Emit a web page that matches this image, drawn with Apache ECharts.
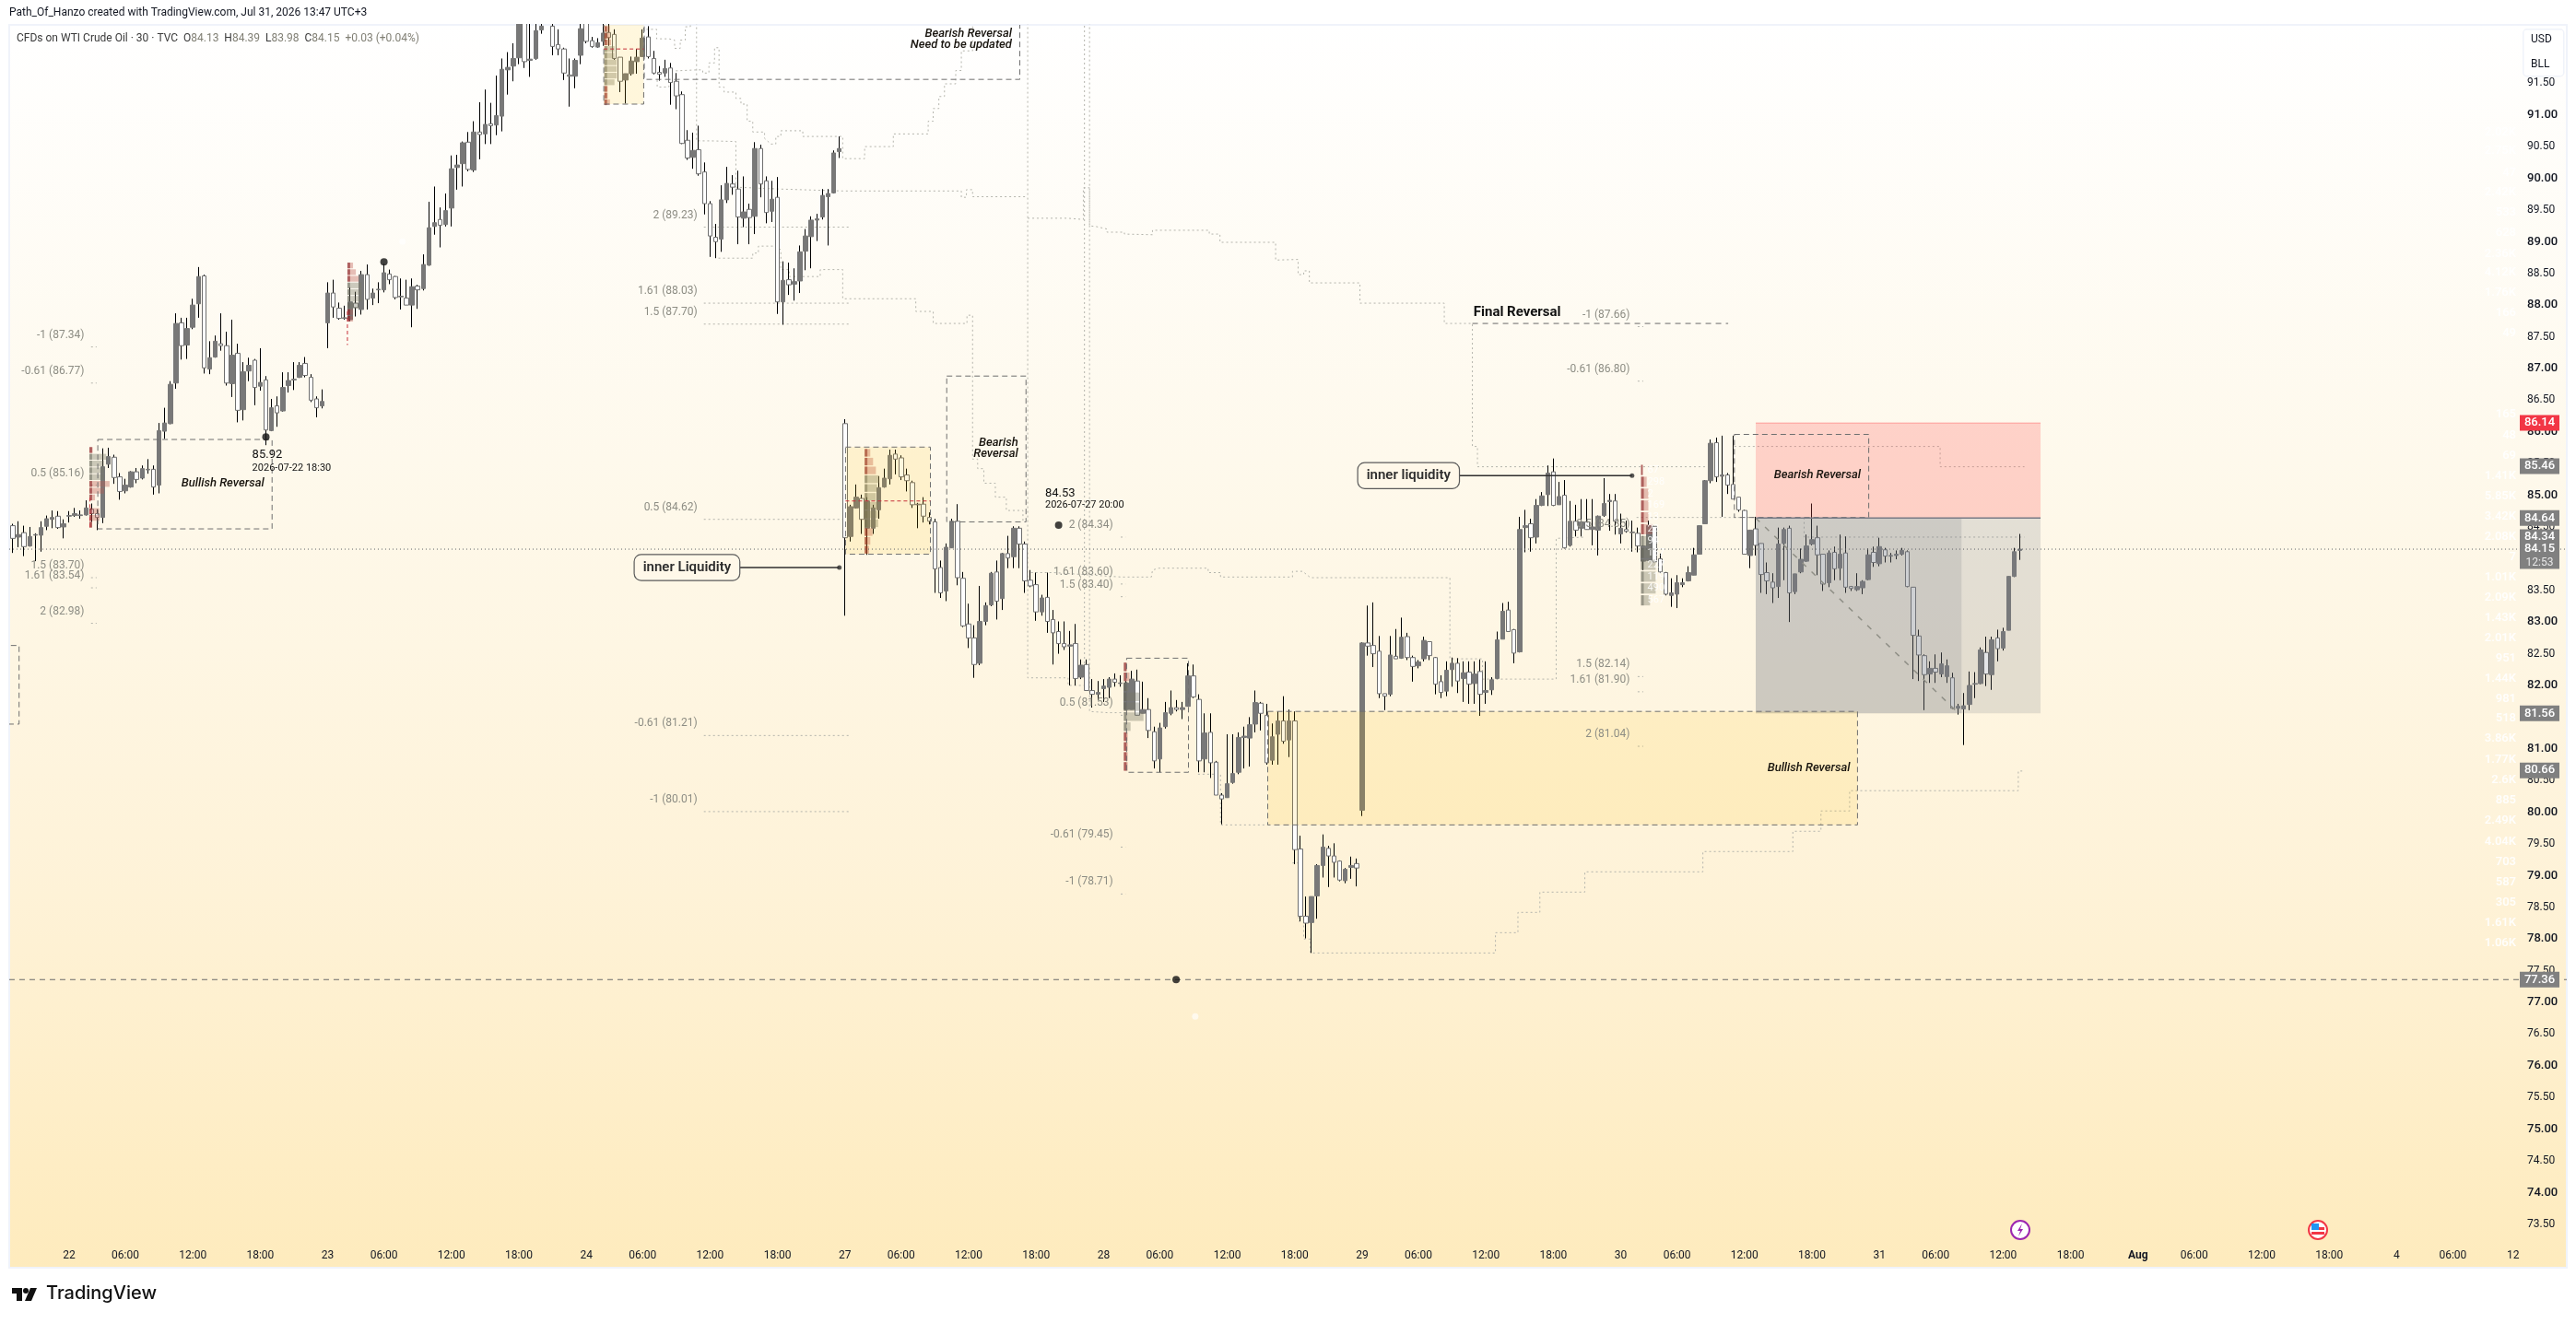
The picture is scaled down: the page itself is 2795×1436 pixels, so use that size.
<!DOCTYPE html>
<html>
<head>
<meta charset="utf-8">
<title>WTI 30m</title>
<style>
  html, body { margin: 0; padding: 0; background: #fff; }
  #main { width: 2795px; height: 1436px; }
</style>
<script src="https://cdn.jsdelivr.net/npm/echarts@6/dist/echarts.min.js"></script>
</head>
<body>
<div id="main"></div>
<script>
// 30m bars, first one sits at slot -10 (slot 0 = Jul 22 01:00), rows are open, close, low, high
var firstSlot = -10;
var bars = [
  [84.52,84.32,84.09,84.55],[84.34,84.38,84.18,84.59],[84.41,84.19,84.04,84.52],[84.20,84.35,84.19,84.50],[84.37,84.38,83.96,84.40],
  [84.37,84.49,84.11,84.59],[84.51,84.63,84.45,84.68],[84.62,84.65,84.48,84.76],[84.67,84.49,84.47,84.75],[84.50,84.55,84.32,84.62],
  // Jul 22
  [84.67,84.68,84.57,84.75],[84.68,84.71,84.66,84.80],[84.68,84.69,84.63,84.76],[84.69,84.80,84.68,84.92],[84.78,84.71,84.58,84.87],
  [84.71,84.65,84.45,84.78],[84.65,85.45,84.56,85.74],[85.49,85.61,85.43,85.75],[85.60,85.28,85.18,85.64],[85.29,85.06,84.93,85.35],
  [85.07,85.16,85.03,85.26],[85.13,85.37,85.12,85.38],[85.37,85.25,85.19,85.43],[85.27,85.42,85.25,85.47],[85.40,85.41,85.34,85.57],
  [85.41,85.13,85.01,85.47],[85.16,86.02,85.03,86.14],[86.01,86.14,85.89,86.38],[86.13,86.75,86.12,86.80],[86.77,87.71,86.68,87.87],
  [87.72,87.36,87.14,87.80],[87.37,87.63,87.15,87.80],[87.65,88.00,87.62,88.10],[88.02,88.45,87.80,88.60],[88.46,87.01,86.92,88.48],
  [86.99,87.17,86.91,87.43],[87.18,87.43,87.17,87.52],[87.39,87.36,87.28,87.87],[87.36,86.77,86.73,87.58],[86.76,87.21,86.55,87.77],
  [87.24,86.34,86.15,87.39],[86.35,86.95,86.18,87.10],[86.96,87.05,86.80,87.17],[87.13,86.70,86.42,87.15],[86.72,86.78,86.65,87.32],
  [86.82,86.03,85.79,86.88],[86.02,86.38,86.01,86.52],[86.41,86.30,86.08,86.56],[86.33,86.70,86.32,86.94],[86.73,86.81,86.62,86.94],
  [86.82,86.83,86.66,87.10],[86.86,87.05,86.85,87.10],[87.08,86.89,86.86,87.18],[86.86,86.50,86.47,86.91],[86.52,86.38,86.23,86.56],
  [86.41,86.48,86.37,86.67],
  // Jul 23
  [87.72,88.19,87.32,88.36],[88.19,87.97,87.80,88.40],[87.95,87.79,87.77,88.04],[87.79,87.80,87.77,87.99],[87.77,88.05,87.75,88.28],
  [88.03,87.96,87.82,88.21],[87.93,88.48,87.85,88.54],[88.48,88.09,87.93,88.64],[88.11,88.19,88.00,88.26],[88.24,88.25,88.03,88.36],
  [88.24,88.51,88.20,88.65],[88.49,88.40,88.33,88.56],[88.45,88.12,88.09,88.46],[88.13,88.14,87.93,88.42],[88.11,88.00,88.00,88.40],
  [88.00,88.29,87.65,88.42],[88.30,88.24,87.94,88.32],[88.26,88.64,88.23,88.80],[88.63,89.22,88.62,89.63],[89.24,89.30,89.11,89.87],
  [89.35,89.26,88.91,89.54],[89.27,89.49,89.24,89.76],[89.53,90.15,89.24,90.36],[90.17,90.21,89.82,90.37],[90.23,90.56,89.87,90.58],
  [90.57,90.14,90.11,90.73],[90.13,90.73,90.10,90.90],[90.73,90.69,90.30,91.20],[90.70,90.85,90.54,91.40],[90.86,90.83,90.54,91.19],
  [90.84,90.99,90.68,91.62],[90.98,91.72,90.74,91.89],[91.71,91.75,91.32,91.99],[91.77,91.89,91.53,92.13],[91.90,92.60,91.80,92.70],
  [92.55,91.84,91.74,92.70],[91.86,91.88,91.60,92.50],[91.89,92.33,91.87,92.60],[92.34,92.40,92.28,92.60],[92.70,92.90,92.50,93.00],
  [92.40,92.08,91.94,92.60],[92.11,92.04,91.94,92.35],[92.04,91.66,91.55,92.06],[91.63,91.61,91.13,91.89],[91.61,91.86,91.42,91.89],
  [91.94,92.36,91.80,92.62],
  // Jul 24
  [92.50,92.16,92.13,92.60],[92.17,92.08,92.06,92.23],[92.07,92.14,92.06,92.21],[92.16,92.29,92.09,92.60],[92.30,92.22,92.09,92.60],
  [92.27,91.89,91.87,92.35],[91.91,91.53,91.36,91.91],[91.55,91.65,91.18,91.65],[91.65,91.85,91.62,91.92],[91.84,91.91,91.65,92.04],
  [91.92,92.21,91.92,92.35],[92.23,91.92,91.89,92.40],[91.89,91.66,91.64,92.01],[91.67,91.64,91.54,91.77],[91.66,91.73,91.60,91.87],
  [91.74,91.51,91.16,91.82],[91.53,91.30,91.09,91.66],[91.32,90.55,90.54,91.37],[90.60,90.32,90.29,90.76],[90.33,90.44,90.15,90.72],
  [90.45,90.07,90.04,90.83],[90.10,89.60,89.43,90.25],[89.60,89.09,88.76,89.64],[89.07,89.00,88.74,89.28],[89.04,89.66,88.84,89.89],
  [89.66,89.92,89.61,90.18],[89.91,89.86,89.74,90.05],[89.83,89.39,88.96,90.12],[89.37,89.47,89.23,90.03],[89.51,89.38,88.96,89.60],
  [89.40,90.47,89.12,90.57],[90.47,89.91,89.70,90.53],[89.96,89.46,89.29,90.03],[89.48,89.67,89.31,89.96],[89.70,88.05,87.86,90.02],
  [88.05,88.39,87.69,88.69],[88.40,88.32,88.16,88.67],[88.33,88.37,88.07,88.58],[88.38,88.84,88.19,88.94],[88.85,89.09,88.55,89.20],
  [89.08,89.34,88.58,89.40],[89.34,89.36,89.01,89.44],[89.39,89.73,89.35,89.83],[89.71,89.76,88.94,89.83],[89.77,90.40,89.76,90.44],
  [90.42,90.47,90.32,90.66],
  // Jul 27
  [86.13,84.33,83.10,86.20],[84.35,84.82,84.27,84.85],[84.80,84.97,84.79,85.17],[84.95,84.62,84.39,85.01],[84.48,84.91,84.06,84.97],
  [84.48,84.80,84.39,84.85],[84.77,85.12,84.63,85.30],[85.13,85.27,85.12,85.42],[85.26,85.63,85.17,85.72],[85.65,85.57,85.33,85.72],
  [85.59,85.29,85.24,85.63],[85.32,85.23,85.06,85.42],[85.20,84.85,84.80,85.23],[84.86,84.85,84.48,84.88],[84.86,84.67,84.57,84.97],
  [84.65,84.59,84.54,84.73],[84.58,83.84,83.46,84.63],[83.86,83.46,83.38,83.97],[83.49,84.18,83.33,84.24],[84.17,84.59,84.17,84.63],
  [84.59,83.70,83.58,84.86],[83.69,82.94,82.92,83.79],[82.97,82.75,82.59,83.29],[82.75,82.33,82.12,82.95],[82.35,83.01,82.32,83.57],
  [83.01,83.26,82.95,83.31],[83.27,83.77,83.25,83.79],[83.79,83.33,83.04,83.97],[83.37,84.08,83.19,84.09],[84.08,84.01,83.85,84.36],
  [84.03,84.48,83.85,84.51],[84.48,84.23,83.85,84.51],[84.23,83.65,83.46,84.27],[83.66,83.57,83.55,83.82],[83.59,83.16,83.02,83.78],
  [83.16,83.38,83.10,83.43],[83.39,83.01,82.83,83.78],[83.04,82.83,82.33,83.19],[82.85,82.66,82.50,83.01],[82.66,82.61,82.56,83.01],
  [82.62,82.64,82.00,82.86],[82.66,82.11,82.00,82.97],[82.13,82.32,82.10,82.41],[82.33,81.92,81.92,82.41],[81.92,81.86,81.65,82.10],
  [81.86,81.89,81.77,82.07],
  // Jul 28
  [81.95,81.99,81.74,82.10],[81.97,82.10,81.80,82.13],[82.10,82.05,81.98,82.19],[82.03,82.04,81.98,82.16],[81.62,82.04,81.62,82.07],
  [81.62,82.10,81.62,82.23],[82.07,81.53,81.53,82.25],[81.56,81.62,81.56,82.06],[81.62,81.29,81.17,81.80],[81.27,80.81,80.69,81.35],
  [80.84,81.33,80.63,81.41],[81.35,81.57,81.32,81.74],[81.56,81.65,81.53,81.92],[81.65,81.62,81.59,81.77],[81.62,81.65,81.47,81.74],
  [81.67,82.15,81.67,82.35],[82.15,81.82,81.80,82.33],[81.78,80.81,80.63,81.86],[80.84,81.25,80.63,81.56],[81.26,80.78,80.54,81.56],
  [80.79,80.27,80.27,80.81],[80.27,80.21,79.81,80.30],[80.23,80.45,80.23,81.23],[80.47,80.61,80.45,81.23],[80.63,81.18,80.60,81.26],
  [81.18,81.20,80.69,81.35],[81.17,81.38,80.72,81.50],[81.39,81.73,81.26,81.92],[81.72,81.56,81.29,81.74],[81.53,80.78,80.75,81.71],
  [80.82,81.19,80.75,81.40],[81.23,81.44,80.75,81.59],[81.44,81.12,81.08,81.83],[81.14,81.44,80.87,81.62],[81.44,79.41,79.18,81.59],
  [79.42,78.36,78.28,79.63],[78.36,78.25,78.01,78.67],[78.26,78.67,77.78,78.67],[78.68,79.16,78.32,79.18],[79.16,79.45,78.97,79.65],
  [79.43,79.31,78.82,79.47],[79.31,79.21,78.97,79.51],[79.23,78.93,78.91,79.24],[78.92,79.10,78.88,79.12],[79.13,79.16,78.95,79.30],
  [79.19,79.12,78.83,79.27],
  // Jul 29
  [80.03,82.67,79.94,82.68],[82.67,82.62,82.47,83.26],[82.63,82.50,82.29,83.31],[82.54,81.87,81.80,82.78],[81.87,81.83,81.61,81.87],
  [81.86,82.48,81.83,82.78],[82.46,82.42,82.42,82.89],[82.43,82.76,82.42,83.07],[82.77,82.44,82.40,82.83],[82.44,82.30,82.06,82.47],
  [82.31,82.37,82.27,82.40],[82.42,82.71,82.38,82.77],[82.69,82.47,82.40,82.69],[82.44,82.02,81.86,82.45],[82.06,81.89,81.80,82.16],
  [81.91,82.24,81.83,82.38],[82.25,82.35,81.98,82.44],[82.35,82.07,81.88,82.43],[82.11,82.20,81.74,82.38],[82.21,82.02,81.71,82.38],
  [82.03,82.18,81.71,82.38],[82.22,81.86,81.52,82.41],[81.89,81.92,81.71,82.38],[81.93,82.09,81.85,82.13],[82.11,82.72,82.10,82.85],
  [82.73,83.17,82.74,83.30],[83.19,82.85,82.85,83.32],[82.88,82.51,82.35,82.89],[82.53,84.46,82.52,84.66],[84.49,84.52,84.10,84.77],
  [84.55,84.33,84.11,84.63],[84.34,84.84,84.24,84.94],[84.84,84.99,84.83,85.05],[85.01,85.35,84.83,85.47],[85.37,84.84,84.83,85.58],
  [84.85,84.98,84.85,85.21],[85.00,84.17,84.16,85.24],[84.21,84.59,84.19,84.91],[84.59,84.45,84.35,84.85],[84.48,84.58,84.35,84.94],
  [84.58,84.46,84.46,84.94],[84.46,84.50,84.21,84.94],[84.45,84.67,84.05,84.68],[84.68,84.87,84.66,85.27],[84.90,84.92,84.44,85.02],
  [84.91,84.59,84.38,85.02],
  // Jul 30
  [84.39,84.48,84.24,84.71],[84.46,84.43,84.41,84.60],[84.41,84.42,84.11,84.60],[84.40,84.20,84.10,84.49],[83.96,84.20,83.82,84.21],
  [83.97,84.52,83.96,84.60],[84.51,83.95,83.94,84.52],[84.00,83.79,83.77,84.08],[83.78,83.44,83.42,83.79],[83.42,83.46,83.24,83.69],
  [83.44,83.62,83.22,83.74],[83.59,83.62,83.55,83.69],[83.65,83.78,83.64,83.88],[83.74,84.06,83.74,84.17],[84.07,84.52,84.07,84.52],
  [84.55,85.23,84.55,85.24],[85.23,85.82,85.19,85.88],[85.83,85.29,85.21,85.91],[85.30,85.32,84.66,85.94],[85.32,85.16,85.02,85.35],
  [85.17,84.94,84.94,85.94],[84.97,84.77,84.74,84.97],[84.76,84.07,84.07,84.77],[84.05,84.45,83.85,84.45],[84.47,84.21,84.05,84.66],
  [84.24,83.75,83.46,84.24],[83.78,83.65,83.44,83.94],[83.63,83.54,83.30,83.77],[83.56,84.23,83.38,84.49],[84.24,84.46,83.66,84.49],
  [84.48,83.46,83.00,84.52],[83.48,83.76,83.44,83.76],[83.79,83.99,83.77,84.16],[83.96,84.20,83.95,84.38],[84.23,84.30,84.21,84.87],
  [84.33,84.06,83.74,84.52],[84.07,83.60,83.49,84.07],[83.62,84.09,83.55,84.13],[84.10,83.84,83.66,84.19],[83.85,84.07,83.66,84.38],
  [84.09,83.55,83.46,84.35],[83.56,83.53,83.49,83.57],[83.51,83.56,83.49,83.77],[83.54,83.64,83.44,83.66],[83.67,84.06,83.66,84.16],
  [84.10,83.94,83.87,84.19],
  // Jul 31
  [83.92,84.19,83.88,84.33],[84.14,84.04,83.94,84.17],[84.05,84.04,83.94,84.09],[84.05,84.07,83.99,84.13],[84.07,84.13,84.05,84.17],
  [84.11,83.56,83.55,84.13],[83.55,82.79,82.10,83.55],[82.78,82.48,82.07,82.88],[82.47,82.17,81.61,82.49],[82.18,82.27,82.04,82.38],
  [82.27,82.21,82.04,82.49],[82.18,82.34,82.13,82.52],[82.14,82.31,82.04,82.41],[82.12,81.64,81.63,82.20],[81.64,81.67,81.54,81.71],
  [81.63,81.68,81.06,81.88],[81.70,82.00,81.61,82.22],[82.02,82.03,81.80,82.21],[82.03,82.56,82.02,82.60],[82.52,82.18,81.99,82.77],
  [82.17,82.72,81.93,82.77],[82.75,82.58,82.38,82.88],[82.59,82.85,82.55,82.91],[82.87,83.72,82.87,83.72],[83.72,84.11,83.71,84.17],
  [84.13,84.15,83.98,84.39]
];

var priceTicks = [91.5,91,90.5,90,89.5,89,88.5,88,87.5,87,86.5,86,85.5,85,84.5,84,83.5,83,82.5,82,81.5,81,80.5,80,79.5,79,78.5,78,77.5,77,76.5,76,75.5,75,74.5,74,73.5];
var timeSlots = [0,10,22,34,46,56,68,80,92,102,114,126,138,148,160,172,184,194,206,218,230,240,252,264,276,286,298,310,322,332,344,356,368,378,390,402,414,424,434.7];
var timeTexts = ['22','06:00','12:00','18:00','23','06:00','12:00','18:00','24','06:00','12:00','18:00','27','06:00','12:00','18:00','28','06:00','12:00','18:00','29','06:00','12:00','18:00','30','06:00','12:00','18:00','31','06:00','12:00','18:00','Aug','06:00','12:00','18:00','4','06:00','12'];

// slot start, slot end, price top, price bottom, look
var zones = [
  [300,350.66,86.14,84.64,'red'],
  [300,350.66,84.64,81.56,'gray'],
  [300,336.6,84.64,81.56,'gray'],
  [213.2,318.1,81.59,79.80,'yellow'],
  [138.1,153.2,85.76,84.07,'yellow'],
  [95.1,102.2,93.2,91.17,'yellow'],
  [5.1,36.1,85.88,84.47,'box'],
  [-12,-8.9,82.63,81.39,'box'],
  [102.3,169.1,93.5,91.56,'box'],
  [156.1,170.2,86.88,84.58,'box'],
  [188.1,199.1,82.43,80.63,'box'],
  [296.2,320.1,85.96,84.65,'box']
];

// slot, price, slot, price, look
var guides = [
  [-10.66,84.15,444.26,84.15,'last'],
  [-10.66,77.36,444.26,77.36,'level'],
  [249.6,87.71,295.1,87.71,'level'],
  [300,84.64,350.66,84.64,'edge'],
  [300,86.14,350.66,86.14,'redEdge'],
  [300,84.64,336.1,81.56,'diag'],
  [138.1,84.91,153.2,84.91,'redDash'],
  [95.1,92.04,102.2,92.04,'redDash'],
  [49.5,87.9,49.5,87.37,'redDash'],
  [3.7,84.96,3.7,84.46,'redDash'],
  [119.2,83.86,137,83.86,'pointer'],
  [247.2,85.31,278,85.31,'pointer']
];

var stepA = [[102.7,92.35],[104.5,92.35],[104.5,92.2],[106.7,92.2],[107.7,92.18],[107.7,92.05],[108.7,92.05],[108.7,92.18],[109.6,92.18],[109.6,92.39],[110.5,92.39],[110.5,92.6]];
var stepB = [[104.6,91.55],[104.6,91.44],[106.7,91.44],[106.7,91.69],[111.6,91.71],[112.7,91.71],[112.7,91.66],[113.8,91.66],[113.8,91.82],[114.8,91.82],[114.8,92.06],[115.6,92.06],[115.6,91.44],[116.5,91.44],[116.5,91.36],[118.6,91.36],[118.6,91.26],[119.5,91.26],[119.5,91.17],[120.6,91.17],[120.6,90.9],[121.6,90.9],[121.6,90.73],[123.7,90.73],[123.7,90.63],[124.8,90.54],[125.7,90.54],[125.7,90.66],[126.6,90.66],[126.6,90.75],[130.5,90.75],[130.5,90.66],[137.6,90.66],[137.6,90.31],[141.5,90.31],[141.5,90.5],[146.6,90.5],[146.6,90.7],[152.8,90.7],[152.8,90.9],[153.7,90.9],[153.7,91.1],[154.7,91.1],[154.7,91.29],[155.7,91.29],[155.7,91.49],[157.7,91.49],[157.7,91.7],[158.7,91.7],[158.7,92.01],[160.7,92.01],[160.7,92.6]];
var stepC = [[111.6,92.6],[111.6,90.59],[114.2,90.59],[118.6,90.58],[118.6,89.86],[126.6,89.83],[137.6,89.8],[158.7,89.8],[158.7,89.7],[159.6,89.7],[159.6,89.82],[160.7,89.82],[160.7,89.71],[170.5,89.71]];
var stepD = [[170.5,92.6],[170.5,82.12],[177.7,82.12],[177.7,82],[180.6,82],[180.6,92.6]];
var stepE = [[181.5,92.6],[181.5,81.59],[184.7,81.57],[188.1,81.57]];
var stepF = [[170.5,89.37],[177.6,89.37],[177.6,89.35],[180.4,89.35],[180.4,89.85],[181.5,89.85],[181.5,89.25],[182.6,89.24],[184.6,89.2],[184.6,89.15],[187.7,89.15],[187.7,89.12],[192.7,89.11],[192.7,89.18],[202.8,89.18],[202.8,89.12],[204.7,89.12],[204.7,88.99],[214.6,88.99],[214.6,88.71],[218.6,88.72],[218.6,88.48],[219.6,88.48],[219.6,88.54],[220.6,88.54],[220.6,88.35],[229.6,88.35],[229.6,88.03],[244.6,88.03],[244.6,87.71],[249.6,87.71],[249.6,85.77],[250.5,85.77],[250.5,85.45],[291.5,85.45]];
var stepG = [[296.2,85.77],[332.8,85.77],[332.8,85.45],[347.8,85.45]];
var stepH = [[115.5,88.74],[121.6,88.74],[121.6,88.82],[122.6,88.82],[122.6,88.93],[125.9,88.93],[126.6,88.87],[126.6,88.56],[128.1,88.56],[128.1,88.45],[133.6,88.45],[133.6,88.56],[137.6,88.56],[137.6,88.1],[150.6,88.1],[150.6,87.9],[153.7,87.9],[153.7,87.71],[159.7,87.71],[159.7,87.84],[160.7,87.84],[160.7,85.57],[161.6,85.57],[161.6,85.42],[162.7,85.42],[162.7,85.19],[164.75,85.19],[164.75,84.97],[166.7,84.97],[166.7,84.76],[169.66,84.76],[169.66,84.58]];
var stepI = [[171.1,83.78],[175.1,83.78],[187.2,83.71],[192.5,83.71],[192.7,83.82],[193.8,83.85],[202.6,83.85],[202.6,83.78],[204.8,83.78],[204.8,83.71],[217.6,83.71],[217.6,83.8],[219.4,83.8],[220.8,83.7],[245.6,83.7],[245.6,82.42],[251.4,82.42],[251.4,82.1],[264.5,82.1],[264.5,84.32],[269.6,84.34]];
var stepJ = [[200.8,80.6],[204.8,80.6],[204.8,79.8],[213.2,79.8]];
var stepK = [[217.6,79.2],[218.7,79.2],[218.7,78.28],[219.6,78.28],[219.6,78],[220.8,78],[220.8,77.78],[253.7,77.78],[253.7,78.1],[257.7,78.1],[257.7,78.42],[261.6,78.42],[261.6,78.74],[269.6,78.74],[269.6,79.06],[290.6,79.06],[290.6,79.38],[306.6,79.38],[306.6,79.7],[311.6,79.7],[311.6,80.02],[316.7,80.02],[316.7,80.34],[346.7,80.34],[346.7,80.65],[347.8,80.65]];
var stepL = [[308.6,84.65],[308.6,84.34],[347.8,84.34]];
var stepM = [[278.8,84.65],[300,84.65]];
var stepLines = [stepA,stepB,stepC,stepD,stepE,stepF,stepG,stepH,stepI,stepJ,stepK,stepL,stepM];

// fib captions: text, price, slot where the caption ends, dotted line from, dotted line to
var fibs = [
  ['-1 (87.34)',87.34,2.7,3.9,4.9],['-0.61 (86.77)',86.77,2.7,3.9,4.9],['0.5 (85.16)',85.16,2.7,3.9,4.9],
  ['1.5 (83.70)',83.70,2.7,3.9,4.9],['1.61 (83.54)',83.54,2.7,3.9,4.9],['2 (82.98)',82.98,2.7,3.9,4.9],
  ['2 (89.23)',89.23,111.75,112.9,138.8],['1.61 (88.03)',88.03,111.75,112.9,138.8],['1.5 (87.70)',87.70,111.75,112.9,138.8],
  ['0.5 (84.62)',84.62,111.75,112.9,138.8],['-0.61 (81.21)',81.21,111.75,112.9,138.8],['-1 (80.01)',80.01,111.75,112.9,138.8],
  ['2 (84.34)',84.34,185.7,187.05,187.9],['1.61 (83.60)',83.60,185.7,187.05,187.9],['1.5 (83.40)',83.40,185.7,187.05,187.9],
  ['0.5 (81.53)',81.53,185.7,187.05,187.9],['-0.61 (79.45)',79.45,185.7,187.05,187.9],['-1 (78.71)',78.71,185.7,187.05,187.9],
  ['-1 (87.66)',87.66,277.6,279,280],['-0.61 (86.80)',86.80,277.6,279,280],['0.5 (84.35)',84.35,277.6,279,280],
  ['1.5 (82.14)',82.14,277.6,279,280],['1.61 (81.90)',81.90,277.6,279,280],['2 (81.04)',81.04,277.6,279,280]
];

// slot, price, text, look
var notes = [
  [34.7,85.18,'Bullish Reversal','italicEnd'],
  [167.7,92.28,'Bearish Reversal','italicEnd'],
  [167.7,92.10,'Need to be updated','italicEnd'],
  [168.8,85.83,'Bearish','italicEnd'],
  [168.8,85.65,'Reversal','italicEnd'],
  [318.7,85.32,'Bearish Reversal','italicEnd'],
  [316.8,80.69,'Bullish Reversal','italicEnd'],
  [249.8,87.88,'Final Reversal','boldStart'],
  [32.56,85.63,'85.92','value'],
  [32.56,85.43,'2026-07-22 18:30','stamp'],
  [173.6,85.03,'84.53','value'],
  [173.6,84.85,'2026-07-27 20:00','stamp'],
  [119.2,83.86,'inner Liquidity','callout'],
  [247.2,85.31,'inner liquidity','callout']
];

var dots = [[35,85.92],[56,88.68],[176,84.53],[196.9,77.36]];
var smallDots = [[137,83.86],[278,85.31]];
var glints = [[59.3,89.0],[200.3,76.78]];

// price, text, colour, second line
var priceTags = [
  [86.14,'86.14','#f23645'],[85.46,'85.46','#808080'],[84.64,'84.64','#808080'],[84.34,'84.34','#808080'],
  [84.15,'84.15','#808080','12:53'],[81.56,'81.56','#808080'],[80.66,'80.66','#808080'],[77.36,'77.36','#808080']
];

var volumePrices = [90.73,90.43,90.09,89.78,89.46,89.14,88.81,88.51,88.19,87.87,87.55,86.27,85.94,85.62,85.30,84.99,84.66,84.34,84.03,83.70,83.39,83.07,82.75,82.43,82.11,81.79,81.48,81.16,80.83,80.51,80.18,79.86,79.54,79.21,78.90,78.57,78.26,77.94];
var volumeTexts = ['2.02K','2.75K','47','2.42K','533','628','2.36K','4.12K','1.76K','166','49','165','48','69','1.41K','5.85K','3.42K','2.08K','7','1.01K','2.09K','1.43K','2.01K','951','1.44K','981','518','3.86K','1.77K','2.6K','885','2.49K','4.04K','703','587','305','1.61K','1.06K'];

// footprint clusters: first slot, top price, row height in price, row widths in slots, tones
var footprintA = [3.6,85.76,0.107,[0.6,3,2.6,2.6,2.6,3.6,2.6,1,0,1.8,1.8,0.5],'rggggrrrrrrr'];
var footprintB = [49.5,88.67,0.105,[1,1.5,2,2.5,2.5,2.5,2,1,1],'rrrggggrr'];
var footprintC = [95.2,92.40,0.105,[1,1,1.2,1.8,1.8,2.2,2.2,2.2,1.8,0.6,0.6,1],'rrrggggggrrr'];
var footprintD = [141.5,85.73,0.139,[1,1.5,2,2.6,2.2,2,2.4,2.4,2.4,1.4,1,0.8],'rrrggggggrrr'];
var footprintE = [187.6,82.36,0.157,[0.5,1,0.8,2.8,2.8,3.5,1.2,0.7,0.7,0.7,0.7],'rrgggggrrrr'];
var footprintF = [279.6,85.48,0.187,[0.3,1,1.3,1.3,1.3,2,1.6,2,2.6,2.6,2.6,1.6],'rrrrrrgggggg'];
var footprintFTexts = ['67','298','2','169','13','23','94','157','227','119','490','567'];
var footprints = [footprintA,footprintB,footprintC,footprintD,footprintE,footprintF];

var uiFont = 'Roboto, "Noto Sans", sans-serif';

var zoneStyle = {
  red: { fill: 'rgba(255,82,82,0.24)' },
  gray: { fill: 'rgba(120,123,134,0.2)' },
  yellow: { fill: 'rgba(255,196,0,0.13)', stroke: '#6f6f6f', lineWidth: 1, lineDash: [6, 4] },
  box: { fill: 'transparent', stroke: '#6f6f6f', lineWidth: 1, lineDash: [6, 4] }
};
var guideStyle = {
  last: { color: '#5d6066', width: 1, type: [1, 3] },
  level: { color: '#6a6a6a', width: 1, type: [6, 5] },
  edge: { color: '#787b86', width: 1.5, type: 'solid' },
  redEdge: { color: 'rgba(255,82,82,0.45)', width: 1, type: 'solid' },
  diag: { color: '#8f8f86', width: 1.5, type: [6, 8] },
  redDash: { color: '#c7303a', width: 1, type: [4, 3] },
  pointer: { color: '#2e2e2e', width: 1.5, type: 'solid' }
};
var noteStyle = {
  italicEnd: { font: 'italic 500 13px ' + uiFont, fill: '#17130d', align: 'right' },
  boldStart: { font: '700 15px ' + uiFont, fill: '#111', align: 'left' },
  value: { font: '13px ' + uiFont, fill: '#111', align: 'left' },
  stamp: { font: '11px ' + uiFont, fill: '#111', align: 'left' },
  callout: { font: '600 15px ' + uiFont, fill: '#2e2e2e', align: 'right' }
};

function slotOf(k) { return firstSlot + k; }

function overlay(name, rows, z, draw, clip) {
  return {
    type: 'custom', name: name, z: z, clip: clip !== false, silent: true,
    coordinateSystem: 'cartesian2d',
    encode: { x: 0, y: 1 },
    data: rows.map(function (r) { return [r[0], r[1]]; }),
    renderItem: function (params, api) { return draw(rows[params.dataIndex], api, params); }
  };
}

// build option
var footprintRows = [];
footprints.forEach(function (f) {
  f[3].forEach(function (w, r) {
    if (!w) return;
    var top = f[1] - f[2] * r;
    footprintRows.push([f[0], top, top - f[2] * 0.86, w, f[4].charAt(r), f === footprintF ? footprintFTexts[r] : '']);
  });
});

var series = [];

stepLines.forEach(function (path) {
  series.push({
    type: 'line', z: 3, silent: true, symbol: 'none', data: path,
    lineStyle: { color: '#b4b4ac', width: 1, type: [2, 3] }
  });
});
fibs.forEach(function (f) {
  series.push({
    type: 'line', z: 3, silent: true, symbol: 'none', data: [[f[3], f[1]], [f[4], f[1]]],
    lineStyle: { color: '#b4b4ac', width: 1, type: [2, 3] }
  });
});

// wick layer first (black), body layer over it
series.push({
  type: 'candlestick', name: 'wicks', z: 4, silent: true, clip: true, barWidth: 1,
  data: bars.map(function (b, k) { return [slotOf(k), b[0], b[1], b[2], b[3]]; }),
  itemStyle: { color: '#000', color0: '#000', borderColor: '#000', borderColor0: '#000', borderWidth: 1 }
});
series.push({
  type: 'candlestick', name: 'bodies', z: 5, silent: true, clip: true, barWidth: 5,
  data: bars.map(function (b, k) {
    return [slotOf(k), b[0], b[1], Math.min(b[0], b[1]), Math.max(b[0], b[1])];
  }),
  itemStyle: { color: '#787878', color0: '#ffffff', borderColor: '#787878', borderColor0: '#6e6e6e', borderWidth: 1 }
});

series.push(overlay('footprints', footprintRows, 6, function (r, api) {
  var a = api.coord([r[0], r[1]]);
  var b = api.coord([r[0] + r[3], r[2]]);
  var dark = Math.min(3, b[0] - a[0]);
  var red = r[4] === 'r';
  var kids = [
    { type: 'rect', shape: { x: a[0], y: a[1], width: b[0] - a[0], height: b[1] - a[1] },
      style: { fill: red ? 'rgba(190,90,80,0.38)' : 'rgba(120,120,100,0.38)' } },
    { type: 'rect', shape: { x: a[0], y: a[1], width: dark, height: b[1] - a[1] },
      style: { fill: red ? 'rgba(130,20,25,0.55)' : 'rgba(90,90,80,0.45)' } }
  ];
  if (r[5]) {
    kids.push({ type: 'text', style: { x: a[0] + 7, y: (a[1] + b[1]) / 2, text: r[5], fill: 'rgba(255,255,255,0.85)', font: '11px ' + uiFont, verticalAlign: 'middle' } });
  }
  return { type: 'group', children: kids };
}));

series.push(overlay('zones', zones, 7, function (r, api) {
  var a = api.coord([r[0], r[2]]);
  var b = api.coord([r[1], r[3]]);
  return { type: 'rect', shape: { x: a[0], y: a[1], width: b[0] - a[0], height: b[1] - a[1] }, style: zoneStyle[r[4]] };
}));

guides.forEach(function (g) {
  series.push({
    type: 'line', z: 8, silent: true, symbol: 'none', data: [[g[0], g[1]], [g[2], g[3]]],
    lineStyle: guideStyle[g[4]]
  });
});

series.push({ type: 'scatter', z: 9, silent: true, symbolSize: 8, itemStyle: { color: '#131313' }, data: dots });
series.push({ type: 'scatter', z: 9, silent: true, symbolSize: 5, itemStyle: { color: '#2e2e2e' }, data: smallDots });
series.push({ type: 'scatter', z: 9, silent: true, symbolSize: 7, itemStyle: { color: 'rgba(255,255,255,0.8)' }, data: glints });

series.push(overlay('fibTexts', fibs.map(function (f) { return [f[2], f[1], f[0]]; }), 9, function (r, api) {
  var p = api.coord([r[0], r[1]]);
  return { type: 'text', style: { x: p[0], y: p[1] - 13, text: r[2], fill: '#8d8d84', font: '12px ' + uiFont, align: 'right', verticalAlign: 'middle' } };
}));

series.push(overlay('notes', notes, 9, function (r, api) {
  var p = api.coord([r[0], r[1]]);
  var s = noteStyle[r[3]];
  var style = { x: p[0], y: p[1], text: r[2], fill: s.fill, font: s.font, align: s.align, verticalAlign: 'middle' };
  if (r[3] === 'callout') {
    style.backgroundColor = '#fff8e9';
    style.borderColor = '#5a5a5a';
    style.borderWidth = 1.2;
    style.borderRadius = 7;
    style.padding = [6, 9, 6, 9];
  }
  return { type: 'text', style: style };
}));

series.push(overlay('volumes', volumePrices.map(function (p, k) { return [0, p, volumeTexts[k]]; }), 9, function (r, api, params) {
  var y = api.coord([0, r[1]])[1];
  return { type: 'text', style: { x: params.coordSys.x + params.coordSys.width - 55, y: y, text: r[2], fill: 'rgba(255,255,255,0.9)', font: '600 13px ' + uiFont, align: 'right', verticalAlign: 'middle' } };
}));

series.push(overlay('tags', priceTags.map(function (t) { return [0, t[0], t[1], t[2], t[3]]; }), 12, function (r, api, params) {
  var y = api.coord([0, r[1]])[1];
  var x = params.coordSys.x + params.coordSys.width - 51;
  var h = r[4] ? 30 : 17;
  var kids = [
    { type: 'rect', z2: 2, shape: { x: x, y: y - 8.5, width: 43, height: h }, style: { fill: r[3] } },
    { type: 'text', z2: 3, style: { x: x + 21.5, y: y, text: r[2], fill: '#fff', font: '500 13px ' + uiFont, align: 'center', verticalAlign: 'middle' } }
  ];
  if (r[4]) {
    kids.push({ type: 'text', z2: 3, style: { x: x + 21.5, y: y + 14.5, text: r[4], fill: '#e6e6e6', font: '12px ' + uiFont, align: 'center', verticalAlign: 'middle' } });
  }
  return { type: 'group', children: kids };
}, false));

var option = {
  animation: false,
  backgroundColor: '#ffffff',
  grid: {
    show: true, left: 10, right: 10, top: 27, bottom: 60,
    borderColor: '#f0f3fa', borderWidth: 2,
    backgroundColor: new echarts.graphic.LinearGradient(0, 0, 0, 1, [
      { offset: 0, color: '#ffffff' },
      { offset: 0.35, color: '#fef9ec' },
      { offset: 0.7, color: '#fef2d7' },
      { offset: 1, color: '#feebbd' }
    ])
  },
  xAxis: {
    type: 'value', min: -10.656, max: 444.26,
    axisLine: { show: false }, splitLine: { show: false },
    axisTick: { show: false, customValues: timeSlots },
    axisLabel: {
      inside: true, margin: 7, color: '#131722', fontFamily: uiFont, fontSize: 12,
      customValues: timeSlots, showMinLabel: true, showMaxLabel: true,
      formatter: function (v) {
        var t = timeTexts[timeSlots.indexOf(v)];
        return t === 'Aug' ? '{b|Aug}' : t;
      },
      rich: { b: { fontWeight: 700, fontSize: 12, color: '#131722', fontFamily: uiFont } }
    }
  },
  yAxis: {
    type: 'value', position: 'right', min: 72.815, max: 92.42, scale: true,
    axisLine: { show: false }, splitLine: { show: false },
    axisTick: { show: false, customValues: priceTicks },
    axisLabel: {
      inside: true, margin: 43, align: 'left', color: '#131722', fontFamily: uiFont,
      customValues: priceTicks,
      formatter: function (v) {
        return (v % 1 === 0 ? '{w|' : '{h|') + v.toFixed(2) + '}';
      },
      rich: {
        w: { fontSize: 13, fontWeight: 500, color: '#131722', fontFamily: uiFont },
        h: { fontSize: 12, color: '#131722', fontFamily: uiFont }
      }
    }
  },
  series: series,
  graphic: [
    // white strip above the panel, candles past the top edge stop here
    { type: 'rect', z: 29, shape: { x: 0, y: 0, width: 2795, height: 26 }, style: { fill: '#ffffff' } },
    { type: 'text', z: 30, left: 10, top: 8, style: { text: 'Path_Of_Hanzo created with TradingView.com, Jul 31, 2026 13:47 UTC+3', fill: '#131722', font: '12px ' + uiFont } },
    { type: 'text', z: 30, left: 18, top: 36, style: {
      text: '{n|CFDs on WTI Crude Oil · 30 · TVC}  {n|O}{v|84.13}  {n|H}{v|84.39}  {n|L}{v|83.98}  {n|C}{v|84.15}  {v|+0.03 (+0.04%)}',
      font: '12px ' + uiFont,
      rich: { n: { fill: '#3a3a3a', font: '12px ' + uiFont }, v: { fill: '#807f74', font: '12px ' + uiFont } }
    } },
    { type: 'rect', z: 30, left: 2737, top: 31, shape: { width: 44, height: 51, r: 4 }, style: { fill: '#ffffff', stroke: '#f0f3fa', lineWidth: 1.5 } },
    { type: 'text', z: 31, left: 2746, top: 37, style: { text: 'USD', fill: '#131722', font: '12px ' + uiFont } },
    { type: 'text', z: 31, left: 2746, top: 64, style: { text: 'BLL', fill: '#131722', font: '12px ' + uiFont } },
    // event badges on the time strip
    { type: 'circle', z: 30, shape: { cx: 2192, cy: 1335, r: 10 }, style: { fill: '#ffffff', stroke: '#9c27b0', lineWidth: 2 } },
    { type: 'polygon', z: 31, shape: { points: [[2194, 1328], [2189, 1336], [2192, 1336], [2190, 1342], [2195, 1334], [2192, 1334]] }, style: { fill: '#9c27b0' } },
    { type: 'circle', z: 30, shape: { cx: 2515, cy: 1335, r: 10 }, style: { fill: '#ffffff', stroke: '#f23645', lineWidth: 2 } },
    { type: 'rect', z: 31, shape: { x: 2508, y: 1337, width: 14, height: 3 }, style: { fill: '#f23645' } },
    { type: 'rect', z: 31, shape: { x: 2516, y: 1332, width: 6, height: 3 }, style: { fill: '#f23645' } },
    { type: 'rect', z: 31, shape: { x: 2508, y: 1328, width: 8, height: 7 }, style: { fill: '#2196f3' } },
    // logo
    { type: 'rect', z: 30, shape: { x: 13, y: 1398, width: 11, height: 6 }, style: { fill: '#111' } },
    { type: 'rect', z: 30, shape: { x: 18, y: 1398, width: 6, height: 14 }, style: { fill: '#111' } },
    { type: 'circle', z: 30, shape: { cx: 28, cy: 1401, r: 3 }, style: { fill: '#111' } },
    { type: 'polygon', z: 30, shape: { points: [[33, 1398], [40, 1398], [34, 1412], [27, 1412]] }, style: { fill: '#111' } },
    { type: 'text', z: 30, left: 50, top: 1394, style: { text: 'TradingView', fill: '#111', font: '500 20px Inter, ' + uiFont } }
  ]
};

var myChart = echarts.init(document.getElementById('main'));
myChart.setOption(option);
</script>
</body>
</html>
